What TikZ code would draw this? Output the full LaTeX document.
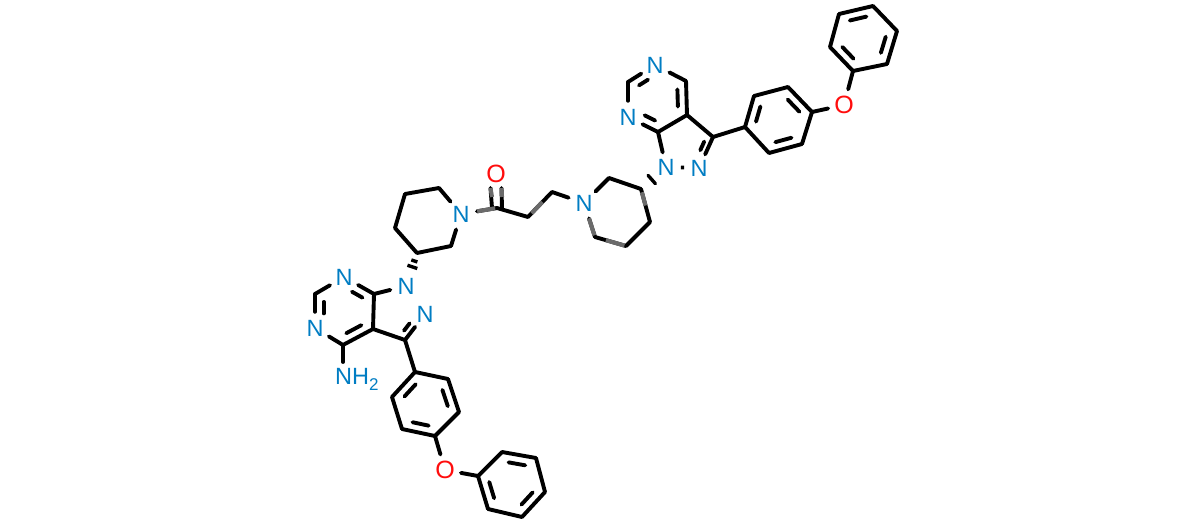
\documentclass[tikz,border=0pt]{standalone}
\usepackage{fontspec}
\setmainfont{Liberation Sans}
\usetikzlibrary{calc}
\definecolor{nblue}{RGB}{0,125,195}
\definecolor{ored}{RGB}{255,13,13}
\tikzset{
  x=1pt,y=-1pt,
  bond/.style={line width=3.9pt,line cap=round,black},
  fade/.style={line width=4.1pt,line cap=butt,black!58},
  hashb/.style={line width=3.4pt,black},
  natom/.style={circle,inner sep=0pt,minimum size=32pt,font=\fontsize{23.5}{23.5}\selectfont,text=nblue},
  nclose/.style={natom,minimum size=29.5pt},
  oatom/.style={natom,text=ored,font=\fontsize{25}{25}\selectfont},
}
% inner line of a double bond: from a towards b, pulled towards ring centre c
\newcommand{\dblin}[5]{\draw[bond] ($($(#1)!#4!(#2)$)!.30!(#3)$) -- ($($(#1)!#5!(#2)$)!.30!(#3)$);}
\begin{document}
\begin{tikzpicture}
\useasboundingbox (0,0) rectangle (1200,524);
\fill[white] (0,0) rectangle (1200,524);
% left piperidine
\node[natom] (pN) at (461,214) {N};
\coordinate (p2) at (439,188);
\coordinate (p3) at (405,194);
\coordinate (p4) at (395,228);
\coordinate (p5) at (417,253);
\coordinate (p6) at (451,246);
% left pyrazolopyrimidine
\node[natom] (aN1) at (406,286) {N};
\node[natom] (aN2) at (425,314) {N};
\coordinate (a3) at (405,340);
\coordinate (a3a) at (373,329);
\coordinate (a7a) at (374,294);
\node[natom] (aN7) at (344,277) {N};
\coordinate (a6) at (315,294);
\node[natom] (aN5) at (315,328) {N};
\coordinate (a4) at (343,345);
\node[anchor=west,inner sep=0pt,font=\fontsize{23.5}{23.5}\selectfont,text=nblue] (nh2) at (335,379.5) {NH\raisebox{-6pt}{\fontsize{17}{17}\selectfont 2}};
\coordinate (nh2b) at (343,362);
\coordinate (acen) at (344,311);
\coordinate (apen) at (397,315);
% left aryl
\coordinate (b1) at (415,372);
\coordinate (b2) at (448,379);
\coordinate (b3) at (459,412);
\coordinate (b4) at (435,436);
\coordinate (b5) at (402,429);
\coordinate (b6) at (392,397);
\coordinate (bcen) at (425.5,404);
\node[oatom] (bO) at (445,470) {O};
\coordinate (c1) at (478,476);
\coordinate (c2) at (502,452);
\coordinate (c3) at (536,458);
\coordinate (c4) at (545,492);
\coordinate (c5) at (522,517);
\coordinate (c6) at (488,509);
\coordinate (ccen) at (512,484.5);
% linker
\coordinate (co) at (497,208);
\node[oatom] (oO) at (496,174) {O};
\coordinate (l1) at (528,217);
\coordinate (l2) at (552,192);
% right piperidine
\node[natom] (qN) at (584,203) {N};
\coordinate (q2) at (609,178);
\coordinate (q3) at (641,189);
\coordinate (q4) at (650,222);
\coordinate (q5) at (626,246);
\coordinate (q6) at (595,237);
% right pyrazolopyrimidine
\node[nclose] (dN1) at (666,167) {N};
\node[nclose] (dN2) at (699,168) {N};
\coordinate (d3) at (713,137);
\coordinate (d3a) at (687,115);
\coordinate (d7a) at (658,132);
\node[natom] (dN7) at (628,117) {N};
\coordinate (d6) at (628,82);
\node[natom] (dN5) at (655,65) {N};
\coordinate (d4) at (686,81);
\coordinate (dcen) at (657,98);
\coordinate (dpen) at (687,145);
% right aryl
\coordinate (e1) at (745,127);
\coordinate (e2) at (754,96);
\coordinate (e3) at (788,87);
\coordinate (e4) at (812,112);
\coordinate (e5) at (802,144);
\coordinate (e6) at (769,153);
\coordinate (ecen) at (778.5,120);
\node[oatom] (eO) at (844,105) {O};
\coordinate (f1) at (853,71);
\coordinate (f2) at (830,47);
\coordinate (f3) at (839,14);
\coordinate (f4) at (873,6);
\coordinate (f5) at (897,31);
\coordinate (f6) at (887,64);
\coordinate (fcen) at (863,38.5);
% single and outer bonds
\foreach \a/\b in {pN/p2,p2/p3,p3/p4,p4/p5,p5/p6,p6/pN,pN/co,co/l1,l1/l2,l2/qN,
  qN/q2,q2/q3,q3/q4,q4/q5,q5/q6,q6/qN,
  aN1/a7a,a7a/a3a,a3a/a3,a3/aN2,a7a/aN7,aN7/a6,a6/aN5,aN5/a4,a4/a3a,a4/nh2b,a3/b1,
  b1/b2,b2/b3,b3/b4,b4/b5,b5/b6,b6/b1,b4/bO,bO/c1,
  c1/c2,c2/c3,c3/c4,c4/c5,c5/c6,c6/c1,
  dN1/d7a,d7a/d3a,d3a/d3,d3/dN2,d7a/dN7,dN7/d6,d6/dN5,dN5/d4,d4/d3a,d3/e1,
  e1/e2,e2/e3,e3/e4,e4/e5,e5/e6,e6/e1,e4/eO,eO/f1,
  f1/f2,f2/f3,f3/f4,f4/f5,f5/f6,f6/f1}
  {\draw[bond] (\a) -- (\b);}
\draw[bond,line cap=butt] (dN2) -- (dN1);
% carbonyl
\draw[bond] ($(co)+(-5,0)$) -- ($(oO)+(-5.5,14)$);
\draw[bond] ($(co)+(5,0)$) -- ($(oO)+(5.5,14)$);
% inner lines of double bonds
\dblin{a7a}{aN7}{acen}{.12}{.62}
\dblin{a6}{aN5}{acen}{.12}{.60}
\dblin{a4}{a3a}{acen}{.14}{.86}
\dblin{a3}{aN2}{apen}{.10}{.50}
\dblin{b1}{b6}{bcen}{.15}{.85}
\dblin{b2}{b3}{bcen}{.15}{.85}
\dblin{b4}{b5}{bcen}{.15}{.85}
\dblin{c1}{c6}{ccen}{.15}{.85}
\dblin{c2}{c3}{ccen}{.15}{.85}
\dblin{c4}{c5}{ccen}{.15}{.85}
\dblin{d7a}{dN7}{dcen}{.12}{.62}
\dblin{d6}{dN5}{dcen}{.12}{.60}
\dblin{d4}{d3a}{dcen}{.14}{.86}
\dblin{d3}{dN2}{dpen}{.10}{.50}
\dblin{e1}{e2}{ecen}{.15}{.85}
\dblin{e3}{e4}{ecen}{.15}{.85}
\dblin{e5}{e6}{ecen}{.15}{.85}
\dblin{f1}{f2}{fcen}{.15}{.85}
\dblin{f3}{f4}{fcen}{.15}{.85}
\dblin{f5}{f6}{fcen}{.15}{.85}
% hashed stereo bonds
\foreach \t/\w in {.24/3.2,.42/5.2}{
  \draw[hashb] ($($(p5)!\t!(aN1)$)!\w pt!90:(aN1)$) -- ($($(p5)!\t!(aN1)$)!\w pt!-90:(aN1)$);
}
\draw[hashb,line cap=round] ($($(q3)!.43!(dN1)$)!5.5pt!90:(dN1)$) -- ($($(q3)!.43!(dN1)$)!5.5pt!-90:(dN1)$);
% faded bond parts
\draw[fade] ($(co)!.05!(pN)$) -- ($(co)!.55!(pN)$);
\draw[fade] ($(co)+(-5,-11)$) -- ($(oO)+(-5.5,14)$);
\draw[fade] ($(co)+(5,-11)$) -- ($(oO)+(5.5,14)$);
\draw[fade] ($(l1)!.15!(l2)$) -- ($(l1)!.6!(l2)$);
\draw[fade] ($(q3)!.1!(q4)$) -- ($(q3)!.5!(q4)$);
\draw[fade] ($(q6)!.05!(qN)$) -- ($(q6)!.55!(qN)$);
\draw[fade] ($(q6)!.35!(q5)$) -- ($(q6)!.95!(q5)$);
\end{tikzpicture}
\end{document}
